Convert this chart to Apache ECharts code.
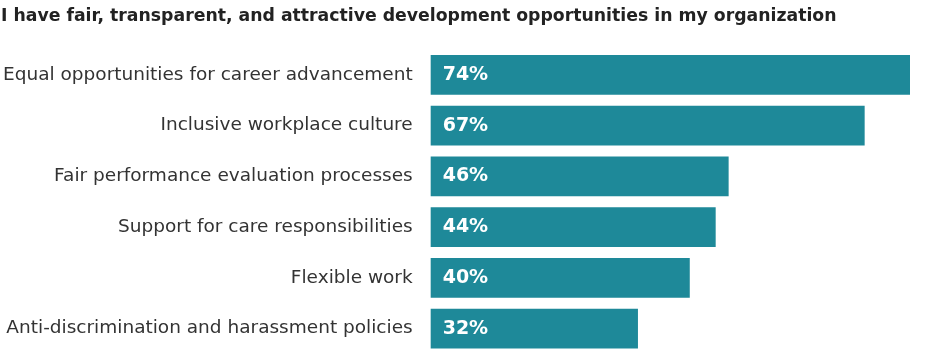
<!DOCTYPE html>
<html>
<head>
<meta charset="utf-8">
<script src="https://cdn.jsdelivr.net/npm/echarts@6/dist/echarts.min.js"></script>
<style>
  html, body { margin: 0; padding: 0; background: #fff; }
  #main { width: 952px; height: 354px; }
</style>
</head>
<body>
<div id="main"></div>
<script>
// data
var categories = [
    'Equal opportunities for career advancement',
    'Inclusive workplace culture',
    'Fair performance evaluation processes',
    'Support for care responsibilities',
    'Flexible work',
    'Anti-discrimination and harassment policies'
];
var values = [74, 67, 46, 44, 40, 32];

var myChart = echarts.init(document.getElementById('main'));

var option = {
    animation: false,
    title: {
        text: 'I have fair, transparent, and attractive development opportunities in my organization',
        left: 1,
        top: 8,
        padding: 0,
        textStyle: {
            fontFamily: 'DejaVu Sans',
            fontWeight: 'bold',
            fontSize: 17.3,
            color: '#222'
        }
    },
    grid: {
        left: 430,
        right: 42,
        top: 49.5,
        height: 306
    },
    xAxis: {
        type: 'value',
        min: 0,
        max: 74,
        show: false
    },
    yAxis: {
        type: 'category',
        data: categories,
        inverse: true,
        axisLine: { show: false },
        axisTick: { show: false },
        axisLabel: {
            margin: 18,
            fontFamily: 'DejaVu Sans',
            fontSize: 18.5,
            color: '#333'
        }
    },
    series: [{
        type: 'bar',
        data: values,
        barCategoryGap: '21.6%',
        itemStyle: { color: '#1e8999' },
        label: {
            show: true,
            position: 'insideLeft',
            distance: 12,
            formatter: '{c}%',
            fontFamily: 'DejaVu Sans',
            fontWeight: 'bold',
            fontSize: 19,
            color: '#fff'
        }
    }]
};

myChart.setOption(option);
</script>
</body>
</html>
